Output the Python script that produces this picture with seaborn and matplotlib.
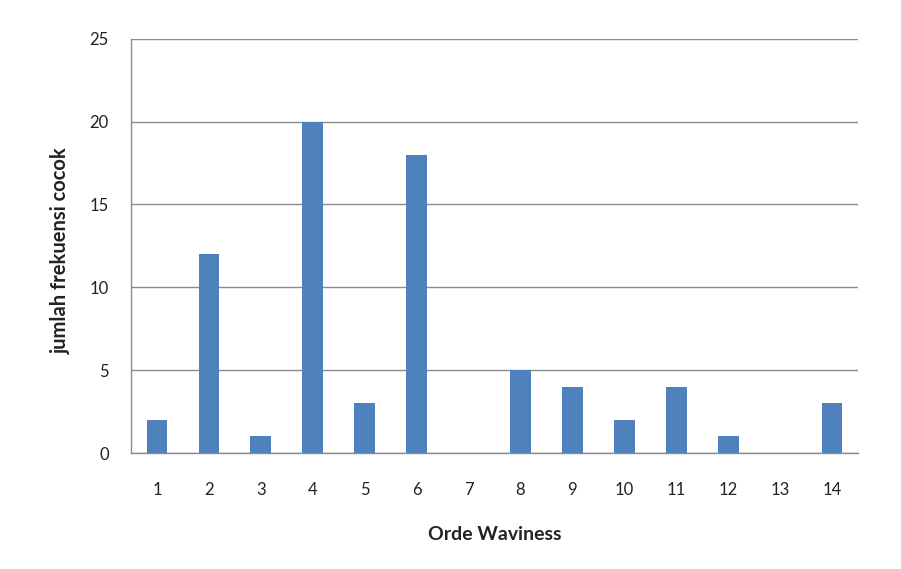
import numpy as np
import pandas as pd
import matplotlib
matplotlib.use("Agg")
import matplotlib.pyplot as plt
import seaborn as sns

# data
orde = ["1", "2", "3", "4", "5", "6", "7", "8", "9", "10", "11", "12", "13", "14"]
jumlah = [2, 12, 1, 20, 3, 18, 0, 5, 4, 2, 4, 1, 0, 3]

df = pd.DataFrame({"orde": orde, "jumlah": jumlah})

sns.set_style("white")
plt.rcParams["font.family"] = ["Lato", "DejaVu Sans"]

fig = plt.figure(figsize=(9.01, 5.69), dpi=100)
ax = fig.add_axes([131 / 901, 1 - 453 / 569, (858 - 131) / 901, (453 - 38.7) / 569])

sns.barplot(data=df, x="orde", y="jumlah", color="#4F81BD", width=0.4,
            saturation=1, linewidth=0, ax=ax, zorder=3)

ax.set_ylim(0, 25)
ax.set_yticks(np.arange(0, 26, 5))
ax.set_xlim(-0.5, len(orde) - 0.5)
ax.yaxis.grid(True, color="#8c8c8c", linewidth=1)
ax.set_axisbelow(True)

for s in ["top", "right"]:
    ax.spines[s].set_visible(False)
for s in ["left", "bottom"]:
    ax.spines[s].set_color("#8c8c8c")
    ax.spines[s].set_linewidth(1)

# tick marks at category boundaries, like Excel
ax.set_xticks(np.arange(-0.5, len(orde), 1), minor=True)
ax.tick_params(axis="x", which="minor", length=5, color="#8c8c8c", direction="out")
ax.tick_params(axis="x", which="major", length=0, pad=21, labelsize=12, colors="#222222")
ax.tick_params(axis="y", which="major", length=5, color="#8c8c8c", direction="out",
               pad=11, labelsize=12, colors="#222222")

ax.set_xlabel("Orde Waviness", fontsize=14, fontweight="bold", color="#222222", va="center")
ax.set_ylabel("jumlah frekuensi cocok", fontsize=14.5, fontweight="bold", color="#222222", va="center")
ax.xaxis.set_label_coords(0.5, -81 / 414.3)
ax.yaxis.set_label_coords(-70 / 727, 202 / 414.3)

fig.savefig("out.png", dpi=100)
